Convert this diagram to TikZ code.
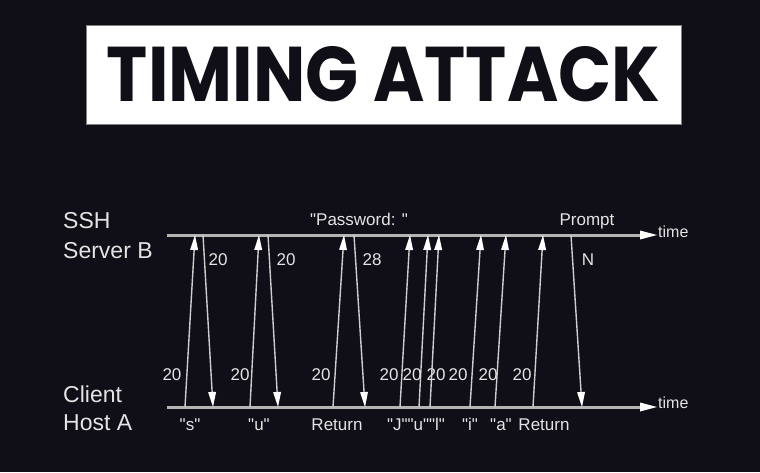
\documentclass[tikz,border=0pt]{standalone}
\usepackage{fontspec}
\setmainfont{Liberation Sans}
\newfontfamily\titlefont{Poppins}
\usetikzlibrary{arrows.meta}
\definecolor{bg}{RGB}{16,15,23}
\definecolor{ink}{RGB}{228,228,228}
\definecolor{axisc}{RGB}{180,180,180}
\definecolor{msgc}{RGB}{205,205,205}
\newcommand{\dq}{\XeTeXglyph\XeTeXglyphindex "quotedbl" }
\begin{document}
\begin{tikzpicture}[x=1pt,y=-1pt,
  lbl/.style={text=ink, font=\fontsize{17}{17}\selectfont, inner sep=0pt, anchor=base},
  side/.style={text=ink, font=\fontsize{23}{23}\selectfont, inner sep=0pt, anchor=base west},
  timeline/.style={draw=axisc, line width=3pt, -{Triangle[length=17pt,width=9pt,line width=0pt,color=white]}},
  msg/.style={draw=msgc, line width=1.4pt, -{Triangle[length=15pt,width=8pt,line width=0pt,color=white]}}]
\fill[bg] (0,0) rectangle (760,472);
% title
\node[fill=white, draw=gray, line width=1pt, minimum width=595pt, minimum height=99pt, inner sep=0pt] (titlebox) at (383.5,74.5) {};
\node[inner sep=0pt, text=bg] (title) at (383.5,74.5) {\resizebox{553pt}{55pt}{\titlefont\bfseries TIMING ATTACK}};
% side labels
\node[side] (ssh) at (63,228) {SSH};
\node[side] (srv) at (63,258) {Server B};
\node[side] (cli) at (63,402) {Client};
\node[side] (hst) at (63,430) {Host A};
% axes
\coordinate (tS) at (167,235);
\coordinate (tE) at (657,235);
\coordinate (bS) at (167,407);
\coordinate (bE) at (657,407);
\draw[timeline] (tS) -- (tE);
\draw[timeline] (bS) -- (bE);
\node[text=ink, font=\fontsize{16}{16}\selectfont, inner sep=0pt, anchor=base west] (ttime) at (658,237) {time};
\node[text=ink, font=\fontsize{16}{16}\selectfont, inner sep=0pt, anchor=base west] (btime) at (658,408) {time};
% endpoints
\foreach \n/\bx/\tx in {u1/185/195, u2/250/259, u3/333/344, u4/400/410, u5/419/428, u6/430/439, u7/470/481, u8/495/506, u9/533/543}{
  \coordinate (\n b) at (\bx,407);
  \coordinate (\n t) at (\tx,235);
}
\foreach \n/\tx/\bx in {d1/203/213, d2/268/278, d3/354/365, d4/571/582}{
  \coordinate (\n t) at (\tx,235);
  \coordinate (\n b) at (\bx,407);
}
\foreach \n in {u1,u2,u3,u4,u5,u6,u7,u8,u9}{\draw[msg] (\n b) -- (\n t);}
\foreach \n in {d1,d2,d3,d4}{\draw[msg] (\n t) -- (\n b);}
% top labels
\node[lbl] (pw) at (359,225) {\dq Password: \dq};
\node[lbl] (prompt) at (587,225) {Prompt};
\node[lbl] (l20a) at (218,265) {20};
\node[lbl] (l20b) at (286,265) {20};
\node[lbl] (l28) at (372,265) {28};
\node[lbl] (lN) at (588,265) {N};
% bottom numbers
\node[lbl] (b1) at (172,380) {20};
\node[lbl] (b2) at (240,380) {20};
\node[lbl] (b3) at (321,380) {20};
\node[lbl] (b4) at (389,380) {20};
\node[lbl] (b5) at (412,380) {20};
\node[lbl] (b6) at (436,380) {20};
\node[lbl] (b7) at (458,380) {20};
\node[lbl] (b8) at (488,380) {20};
\node[lbl] (b9) at (522,380) {20};
% keys
\node[lbl] (ks) at (190,430) {\dq s\dq};
\node[lbl] (ku) at (259,430) {\dq u\dq};
\node[lbl] (kr1) at (337,430) {Return};
\node[lbl] (kj) at (416,430) {\dq J\dq\dq u\dq\dq l\dq};
\node[lbl] (ki) at (470,430) {\dq i\dq};
\node[lbl] (ka) at (501,430) {\dq a\dq};
\node[lbl] (kr2) at (544,430) {Return};
\end{tikzpicture}
\end{document}
